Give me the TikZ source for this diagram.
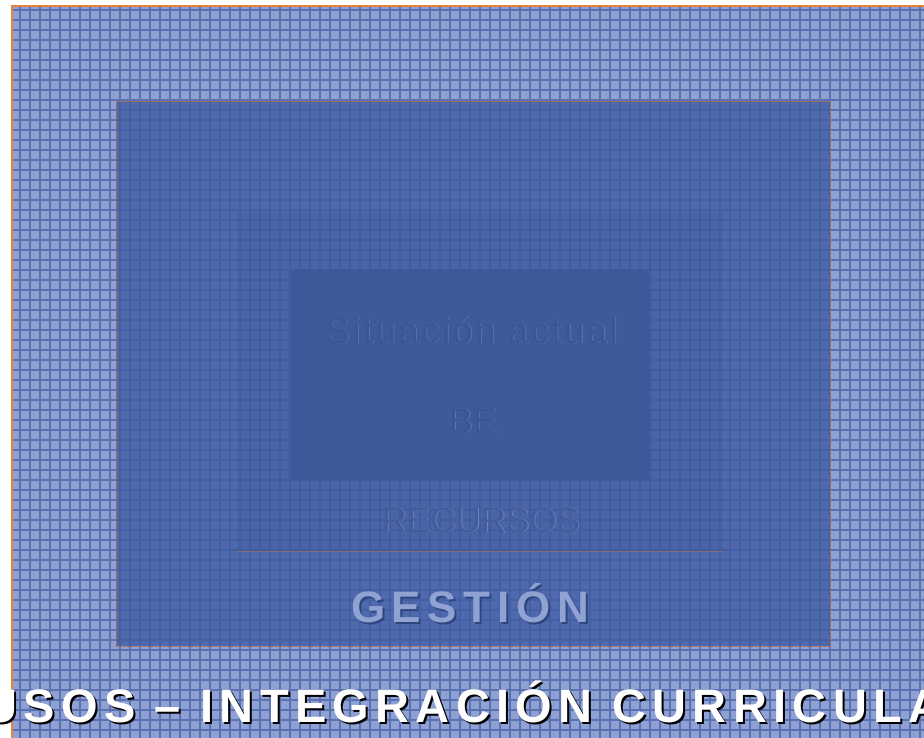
\documentclass[tikz,border=0pt]{standalone}
\usepackage{fontspec}
\setmainfont{Liberation Sans}
\definecolor{outerfill}{HTML}{8EA1D2}
\definecolor{outergrid}{HTML}{5A72B2}
\definecolor{gfill}{HTML}{5069AD}
\definecolor{ggrid}{HTML}{4460A4}
\definecolor{rfill}{HTML}{4A64A8}
\definecolor{rgrid}{HTML}{415DA0}
\definecolor{bfill}{HTML}{3E5A9A}
\definecolor{orangeline}{HTML}{E8803A}
\definecolor{faintorange}{HTML}{B07050}
\definecolor{gestext}{HTML}{8FA2D2}
\definecolor{gesshadow}{HTML}{2E4680}
\begin{document}
\begin{tikzpicture}[x=1pt,y=-1pt,
  box/.style={anchor=north west, inner sep=0pt, outer sep=0pt},
  ghosttext/.style={anchor=base, inner sep=0pt, font=\fontsize{36}{40}\selectfont},
  gestfont/.style={anchor=base west, inner sep=0pt, font=\fontsize{44}{48}\selectfont\bfseries\addfontfeature{LetterSpace=15}},
  titlefont/.style={anchor=base west, inner sep=0pt, font=\fontsize{47}{52}\selectfont\bfseries\addfontfeature{LetterSpace=13.5}}]
\useasboundingbox (0,0) rectangle (924,738);
% outer field
\node[box, fill=outerfill, minimum width=918pt, minimum height=739pt] (outer) at (12,6) {};
\begin{scope}
  \clip (outer.north west) rectangle (outer.south east);
  \draw[outergrid, line width=1.6pt] (outer.north west) grid[step=10pt] (outer.south east);
\end{scope}
\draw[orangeline, line width=2pt] (outer.south west) -- (outer.north west) -- (outer.north east);
% gestion box
\node[box, fill=gfill, minimum width=714pt, minimum height=545pt] (gestion) at (116,101) {};
\begin{scope}
  \clip (gestion.north west) rectangle (gestion.south east);
  \draw[ggrid, line width=1.4pt] (gestion.north west) grid[step=10pt] (gestion.south east);
\end{scope}
\draw[faintorange, line width=0.8pt, dash pattern=on 3pt off 1pt] (gestion.north west) rectangle (gestion.south east);
% recursos box
\node[box, fill=rfill, minimum width=486pt, minimum height=338pt] (recursos) at (237,213) {};
\begin{scope}
  \clip (recursos.north west) rectangle (recursos.south east);
  \draw[rgrid, line width=1.4pt] (recursos.north west) grid[step=10pt] (recursos.south east);
\end{scope}
\draw[faintorange!60!rfill, line width=0.6pt] (recursos.south west) -- (recursos.south east);
% situacion box
\node[box, fill=bfill, minimum width=360pt, minimum height=211pt] (situacion) at (291,269) {};
% texts
\node[ghosttext, text=bfill!82!white] (sit2) at (472.8,343.8) {\addfontfeature{LetterSpace=7.5}Situación actual};
\node[ghosttext, text=bfill!96!black] (sit) at (472,343) {\addfontfeature{LetterSpace=7.5}Situación actual};
\node[ghosttext, text=bfill!82!white] (be2) at (473.8,433.8) {BE};
\node[ghosttext, text=bfill!96!black] (be) at (473,433) {BE};
\node[ghosttext, font=\fontsize{35}{40}\selectfont, text=rfill!78!white] (rec2) at (481.8,532.8) {RECURSOS};
\node[ghosttext, font=\fontsize{35}{40}\selectfont, text=rfill!92!black] (rec) at (481,532) {RECURSOS};
\node[gestfont, text=gesshadow] (ges2) at (353,624) {GESTIÓN};
\node[gestfont, text=gestext] (ges) at (351,622) {GESTIÓN};
\node[titlefont, text=black] (title2) at (-15,724) {USOS – INTEGRACIÓN CURRICULA};
\node[titlefont, text=white] (title) at (-17,722) {USOS – INTEGRACIÓN CURRICULA};
\end{tikzpicture}
\end{document}
